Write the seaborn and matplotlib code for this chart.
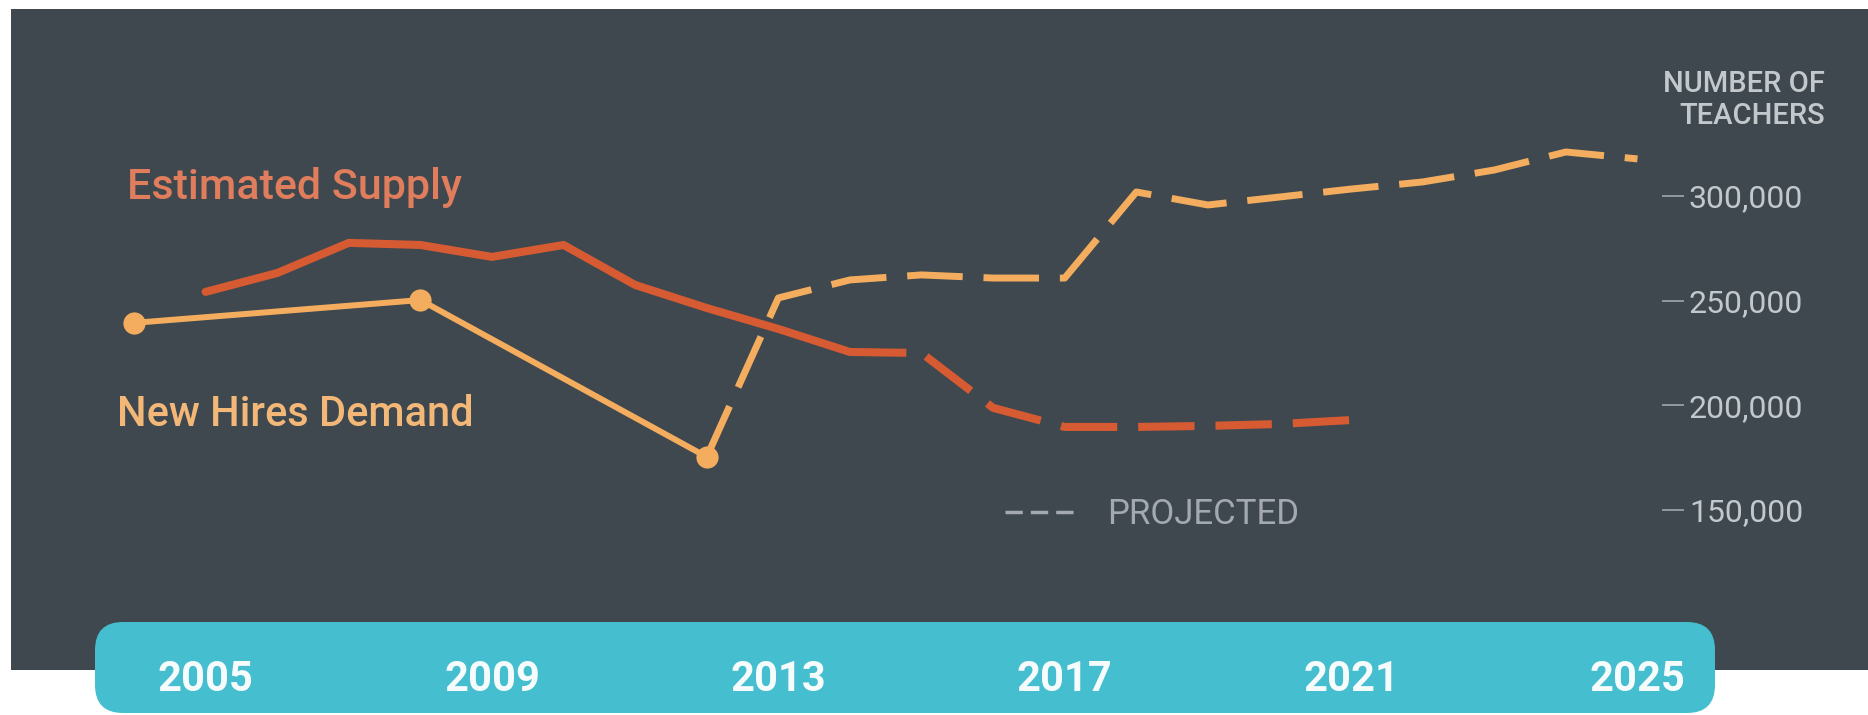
import numpy as np
import pandas as pd
import seaborn as sns
import matplotlib.pyplot as plt
from matplotlib.patches import Rectangle, FancyBboxPatch
from matplotlib.lines import Line2D
from matplotlib.transforms import IdentityTransform

supply_years = list(range(2005, 2022))
supply_values = [254200, 263200, 277600, 276600, 270900, 276600, 257500, 246500,
                 236500, 225500, 225000, 198800, 189700, 189700, 190200, 191100, 193000]
supply_last_actual = 2014

demand_years = [2004, 2008, 2012]
demand_values = [239400, 250300, 175400]

demand_proj_years = list(range(2012, 2026))
demand_proj_values = [175400, 251300, 259900, 262300, 260800, 260800, 301900, 295700,
                      299500, 303300, 306700, 312400, 321000, 317700]

year_ticks = [2005, 2009, 2013, 2017, 2021, 2025]
teacher_ticks = [150000, 200000, 250000, 300000]

DARK = "#3e484e"
RED = "#d65a32"
ORANGE = "#f4ad5f"
CYAN = "#45bfd0"
GREY = "#c3c8cc"

sns.set_theme(style="dark")
plt.rcParams["font.family"] = ["Roboto", "DejaVu Sans"]

W, H = 1868, 715
fig = plt.figure(figsize=(W / 100, H / 100), dpi=100)
fig.patch.set_facecolor("white")

def fx(px):
    return px / W

def fy(py):
    return 1 - py / H

# dark panel and cyan year band (in pixel space)
fig.add_artist(Rectangle((11, H - 670), W - 11, 670 - 9, transform=IdentityTransform(),
                         facecolor=DARK, edgecolor="none", zorder=-2))
fig.add_artist(FancyBboxPatch((95, H - 713), 1715 - 95, 713 - 622,
                              boxstyle="round,pad=0,rounding_size=28",
                              transform=IdentityTransform(),
                              facecolor=CYAN, edgecolor="none", zorder=-1))

# axes placed so the data scale matches the picture
x0, x1 = 2003.0, 2025.65
y0, y1 = 120000, 340000
px_left, px_right = 62.4, 1684
px_top, px_bottom = 112.2, 572.9
ax = fig.add_axes([fx(px_left), fy(px_bottom), fx(px_right) - fx(px_left),
                   (px_bottom - px_top) / H])
ax.patch.set_alpha(0)

supply = pd.DataFrame({"year": supply_years, "teachers": supply_values})
actual = supply[supply["year"] <= supply_last_actual]
proj = supply[supply["year"] >= supply_last_actual]
demand = pd.DataFrame({"year": demand_years, "teachers": demand_values})
demand_proj = pd.DataFrame({"year": demand_proj_years, "teachers": demand_proj_values})

sns.lineplot(data=actual, x="year", y="teachers", color=RED, linewidth=5.8, ax=ax)
sns.lineplot(data=proj, x="year", y="teachers", color=RED, linewidth=5.8, ax=ax,
             dashes=False, linestyle=(0, (7, 2.6)))
sns.lineplot(data=demand_proj, x="year", y="teachers", color=ORANGE, linewidth=5,
             ax=ax, linestyle=(0, (8, 3)))
sns.lineplot(data=demand, x="year", y="teachers", color=ORANGE, linewidth=4.3,
             marker="o", markersize=16, markeredgewidth=0, ax=ax)

ax.set_xlim(x0, x1)
ax.set_ylim(y0, y1)
ax.set_xlabel("")
ax.set_ylabel("")
for s in ax.spines.values():
    s.set_visible(False)

ax.set_xticks(year_ticks)
ax.set_xticklabels([str(y) for y in year_ticks])
ax.tick_params(axis="x", length=0, pad=62, labelsize=30, labelcolor="#f6fbfc")
for t in ax.get_xticklabels():
    t.set_fontweight("bold")

ax.set_yticks(teacher_ticks)
ax.set_yticklabels([f"{v:,}" for v in teacher_ticks])
ax.yaxis.tick_right()
ax.tick_params(axis="y", direction="in", length=16, width=1.1, color="#aab0b4",
               pad=3.6, labelsize=23, labelcolor=GREY, left=False, labelleft=False,
               right=True, labelright=True)
ax.grid(False)

fig.text(fx(1825), fy(100), "NUMBER OF\nTEACHERS", ha="right", va="center",
         fontsize=21, color=GREY, linespacing=1.15, fontweight="medium")
fig.text(fx(127), fy(188), "Estimated Supply", ha="left", va="center",
         fontsize=31, color="#df7d5c", fontweight="medium")
fig.text(fx(117), fy(415), "New Hires Demand", ha="left", va="center",
         fontsize=30, color="#f3b878", fontweight="medium")

handle = Line2D([], [], color="#a3a9ae", linewidth=2.5, linestyle=(0, (5, 2.3)))
fig.legend([handle], ["PROJECTED"], loc="center left",
           bbox_to_anchor=(fx(1005), fy(515)), frameon=False, fontsize=25,
           labelcolor="#a3a9ae", handlelength=2.1, handletextpad=0.85,
           borderpad=0, borderaxespad=0)

fig.savefig("out.png", dpi=100)
